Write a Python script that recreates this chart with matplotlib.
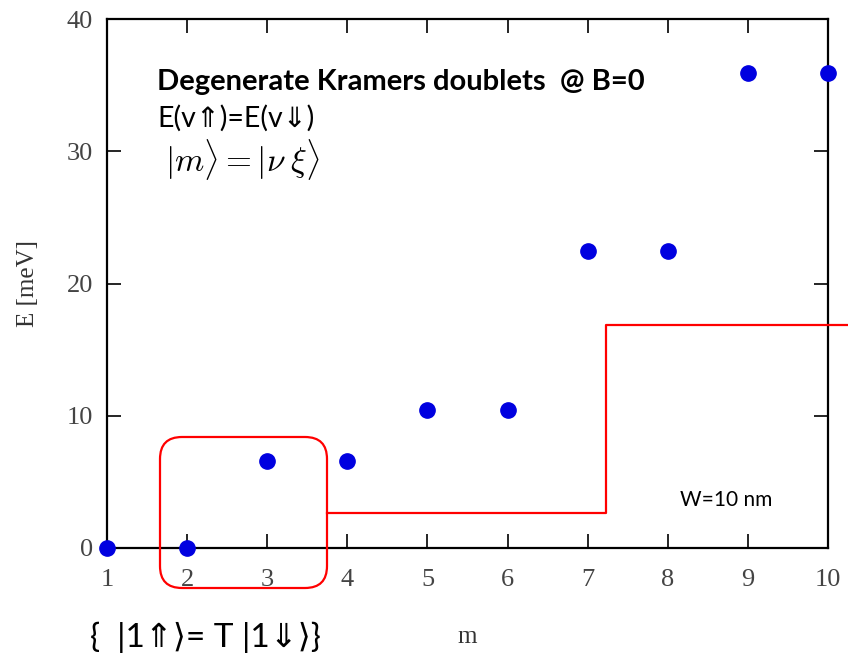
import matplotlib
matplotlib.use("Agg")
import matplotlib.pyplot as plt
from matplotlib.patches import FancyBboxPatch
from matplotlib.lines import Line2D

# data: Kramers doublet energies vs state index
m_vals = [1, 2, 3, 4, 5, 6, 7, 8, 9, 10]
energy = [0.0, 0.0, 6.6, 6.6, 10.45, 10.45, 22.45, 22.45, 35.9, 35.9]

x_ticks = [1, 2, 3, 4, 5, 6, 7, 8, 9, 10]
y_ticks = [0, 10, 20, 30, 40]

plt.rcParams['mathtext.fontset'] = 'cm'

W, H = 848, 659
fig = plt.figure(figsize=(W / 100, H / 100), dpi=100)
ax = fig.add_axes([107 / W, 1 - 548 / H, (828 - 107) / W, (548 - 19) / H])

ax.plot(m_vals, energy, 'o', color='#0000e0', markersize=11, clip_on=False, zorder=5)

ax.set_xlim(1, 10)
ax.set_ylim(0, 40)
ax.set_xticks(x_ticks)
ax.set_yticks(y_ticks)
for s in ax.spines.values():
    s.set_linewidth(1.6)
ax.tick_params(direction='in', length=10, width=1.2, top=True, right=True,
               labelsize=19, labelcolor='#444444')
ax.tick_params(axis='x', pad=15)
ax.tick_params(axis='y', pad=10)
for lab in ax.get_xticklabels() + ax.get_yticklabels():
    lab.set_family('Liberation Serif')

ax.set_xlabel('m', family='Liberation Serif', fontsize=18, color='#333333', labelpad=25)
ax.set_ylabel('E [meV]', family='Liberation Serif', fontsize=18, color='#333333', labelpad=20)

sans = ['Lato', 'DejaVu Sans']
fig.text(157 / W, 1 - 82 / H, 'Degenerate Kramers doublets  @ B=0', family=sans,
         fontsize=21, fontweight='bold', va='center', ha='left')
fig.text(157 / W, 1 - 118 / H, 'E(v\u21d1)=E(v\u21d3)', family=sans,
         fontsize=20.5, va='center', ha='left')
fig.text(165 / W, 1 - 160 / H, r'$|m\rangle = |\nu\;\xi\rangle$',
         fontsize=24, va='center', ha='left')
fig.text(680 / W, 1 - 500 / H, 'W=10 nm', family=sans, fontsize=15, va='center', ha='left')
fig.text(90 / W, 1 - 637 / H, '{  |1\u21d1\u27e9= T |1\u21d3\u27e9}', family=sans,
         fontsize=24, va='center', ha='left')

# red annotation box and connector
box = FancyBboxPatch((160 / W, 1 - 588 / H), (327 - 160) / W, (588 - 437) / H,
                     boxstyle='round,pad=0,rounding_size=%f' % (22 / W),
                     mutation_aspect=W / H, transform=fig.transFigure,
                     fill=False, edgecolor='red', linewidth=1.6, zorder=6)
fig.patches.append(box)
fig.lines.append(Line2D([327 / W, 606 / W, 606 / W, 1.0],
                        [1 - 513 / H, 1 - 513 / H, 1 - 325 / H, 1 - 325 / H],
                        transform=fig.transFigure, color='red', linewidth=1.6, zorder=6))

fig.savefig('out.png', dpi=100)
